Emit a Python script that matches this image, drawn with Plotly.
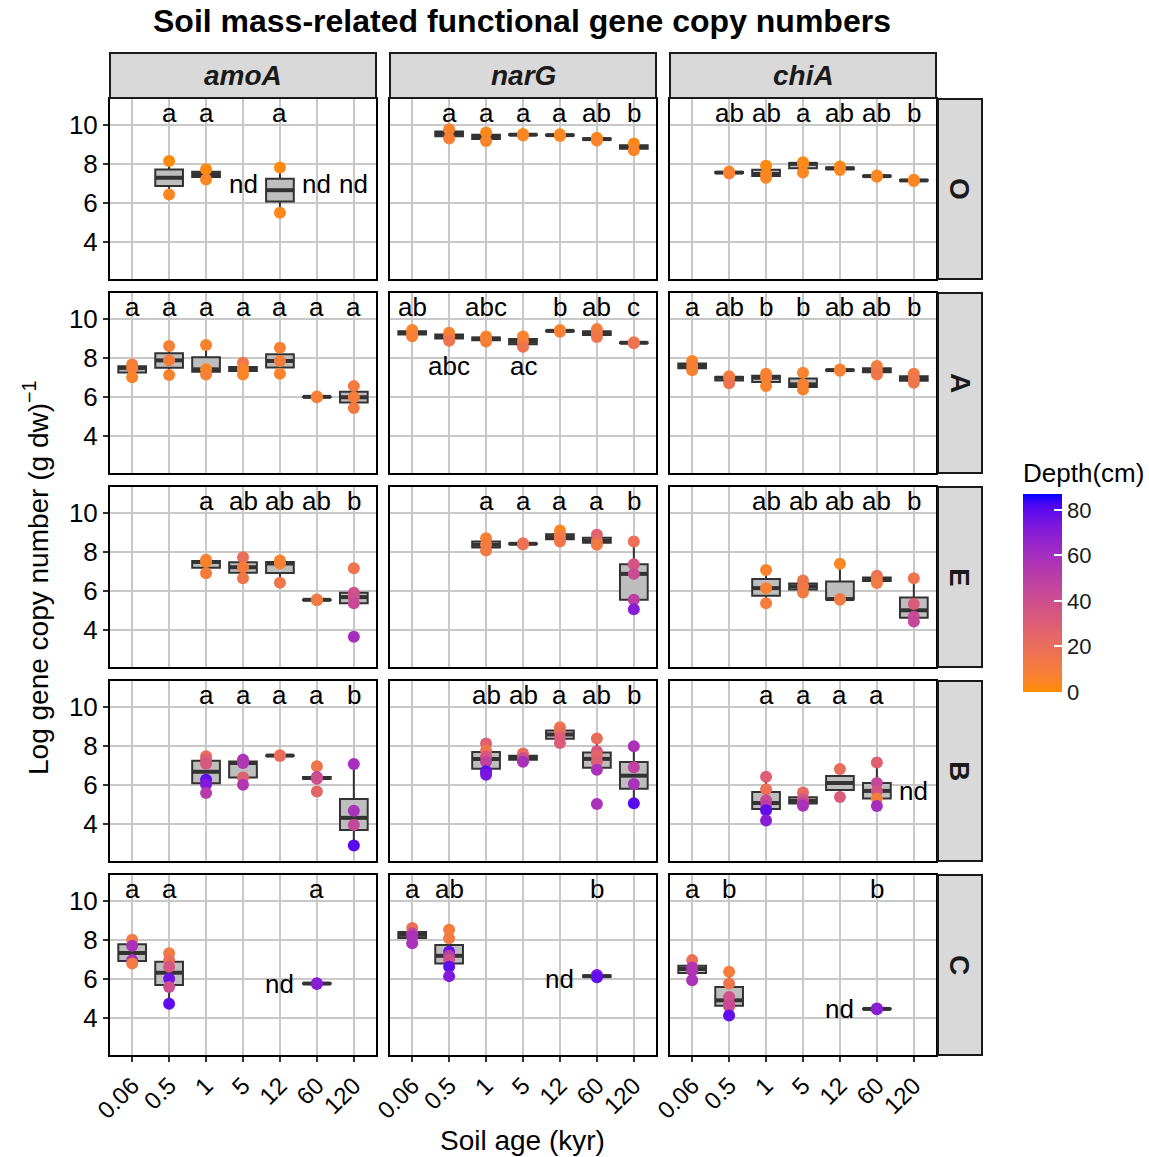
import numpy as np
import plotly.graph_objects as go

FIG_W, FIG_H = 1149, 1157
PLOT_W = 990          # width of the plotting region; the colour bar sits to its right
FONT = "Liberation Sans, Arial, sans-serif"

AGES = ["0.06", "0.5", "1", "5", "12", "60", "120"]
GENES = ["amoA", "narG", "chiA"]
HORIZONS = ["O", "A", "E", "B", "C"]
DEPTH_LIMITS = (0, 87)

# Soil cores per panel: (soil age in kyr, log gene copies per g dw, depth in cm)
amoA_O = [("0.5", 8.16, 1), ("0.5", 6.45, 4), ("1", 7.74, 2), ("1", 7.22, 4),
          ("12", 7.83, 2), ("12", 5.51, 3)]
narG_O = [("0.5", 9.79, 6), ("0.5", 9.32, 8), ("1", 9.62, 3), ("1", 9.19, 5),
          ("5", 9.55, 2), ("5", 9.47, 4), ("12", 9.53, 2), ("12", 9.45, 4),
          ("60", 9.35, 3), ("60", 9.22, 5), ("120", 9.06, 3), ("120", 8.71, 5)]
chiA_O = [("0.5", 7.62, 5), ("0.5", 7.52, 7), ("1", 7.92, 2), ("1", 7.50, 3),
          ("1", 7.30, 4), ("5", 8.10, 2), ("5", 8.02, 3), ("5", 7.57, 4),
          ("12", 7.88, 2), ("12", 7.70, 4), ("60", 7.42, 3), ("60", 7.36, 4),
          ("120", 7.20, 3), ("120", 7.14, 4)]

amoA_A = [("0.06", 7.68, 10), ("0.06", 7.50, 8), ("0.06", 7.03, 6),
          ("0.5", 8.63, 8), ("0.5", 7.89, 10), ("0.5", 7.14, 6),
          ("1", 8.68, 6), ("1", 7.43, 5), ("1", 7.17, 8),
          ("5", 7.77, 15), ("5", 7.48, 8), ("5", 7.40, 6), ("5", 7.17, 5),
          ("12", 8.54, 8), ("12", 7.86, 10), ("12", 7.20, 6),
          ("60", 6.04, 8), ("60", 6.00, 8),
          ("120", 6.57, 12), ("120", 6.00, 10), ("120", 5.45, 12)]
narG_A = [("0.06", 9.45, 5), ("0.06", 9.30, 6), ("0.06", 9.12, 8),
          ("0.5", 9.31, 6), ("0.5", 9.12, 8), ("0.5", 8.89, 16),
          ("1", 9.11, 6), ("1", 9.00, 8), ("1", 8.85, 8),
          ("5", 9.11, 6), ("5", 8.85, 8), ("5", 8.58, 16),
          ("12", 9.44, 6), ("12", 9.36, 8),
          ("60", 9.49, 10), ("60", 9.28, 12), ("60", 9.09, 14),
          ("120", 8.82, 14), ("120", 8.76, 16)]
chiA_A = [("0.06", 7.86, 6), ("0.06", 7.60, 8), ("0.06", 7.38, 8),
          ("0.5", 7.08, 8), ("0.5", 7.00, 12), ("0.5", 6.72, 16),
          ("1", 7.20, 6), ("1", 7.00, 8), ("1", 6.57, 6),
          ("5", 7.26, 6), ("5", 6.66, 8), ("5", 6.40, 6),
          ("12", 7.42, 6), ("12", 7.36, 8),
          ("60", 7.60, 10), ("60", 7.38, 12), ("60", 7.17, 14),
          ("120", 7.20, 12), ("120", 6.95, 14), ("120", 6.74, 15)]

amoA_E = [("1", 7.61, 8), ("1", 7.50, 6), ("1", 6.92, 10),
          ("5", 7.74, 20), ("5", 7.23, 10), ("5", 6.67, 14),
          ("12", 7.58, 6), ("12", 7.42, 8), ("12", 6.44, 14),
          ("60", 5.58, 12), ("60", 5.54, 12),
          ("120", 7.18, 16), ("120", 5.92, 38), ("120", 5.70, 40),
          ("120", 5.38, 44), ("120", 3.67, 60)]
narG_E = [("1", 8.72, 8), ("1", 8.38, 10), ("1", 8.09, 12),
          ("5", 8.46, 18), ("5", 8.40, 18),
          ("12", 9.11, 4), ("12", 8.85, 10), ("12", 8.70, 12), ("12", 8.55, 14),
          ("60", 8.89, 28), ("60", 8.58, 20), ("60", 8.38, 12),
          ("120", 8.55, 18), ("120", 7.38, 36), ("120", 6.89, 42),
          ("120", 5.56, 50), ("120", 5.08, 70)]
chiA_E = [("1", 7.09, 6), ("1", 6.16, 8), ("1", 5.39, 10),
          ("5", 6.55, 16), ("5", 6.25, 14), ("5", 5.94, 12),
          ("12", 7.41, 4), ("12", 5.60, 12), ("12", 5.56, 12),
          ("60", 6.79, 18), ("60", 6.62, 14), ("60", 6.42, 12),
          ("120", 6.67, 16), ("120", 5.35, 32), ("120", 4.70, 42), ("120", 4.45, 45)]

amoA_B = [("1", 7.48, 20), ("1", 7.30, 30), ("1", 7.10, 34), ("1", 6.28, 79),
          ("1", 6.05, 72), ("1", 5.60, 52),
          ("5", 7.31, 60), ("5", 7.22, 56), ("5", 7.14, 55), ("5", 6.40, 28), ("5", 6.03, 55),
          ("12", 7.54, 18), ("12", 7.50, 20),
          ("60", 6.97, 15), ("60", 6.42, 45), ("60", 6.37, 50), ("60", 6.33, 40), ("60", 5.68, 25),
          ("120", 7.09, 60), ("120", 4.69, 58), ("120", 3.97, 45), ("120", 2.91, 80)]
narG_B = [("1", 8.14, 28), ("1", 7.78, 15), ("1", 7.49, 35), ("1", 7.20, 48),
          ("1", 6.72, 79), ("1", 6.54, 74),
          ("5", 7.63, 22), ("5", 7.40, 40), ("5", 7.20, 58),
          ("12", 8.97, 16), ("12", 8.75, 20), ("12", 8.45, 30), ("12", 8.16, 32),
          ("60", 8.40, 20), ("60", 7.74, 35), ("60", 7.50, 25), ("60", 7.20, 30),
          ("60", 6.79, 58), ("60", 5.04, 58),
          ("120", 8.00, 58), ("120", 6.92, 48), ("120", 6.06, 58), ("120", 5.08, 80)]
chiA_B = [("1", 6.43, 30), ("1", 5.80, 18), ("1", 5.23, 42), ("1", 4.95, 50),
          ("1", 4.72, 79), ("1", 4.20, 70),
          ("5", 5.63, 22), ("5", 5.30, 35), ("5", 5.10, 45), ("5", 4.95, 58),
          ("12", 6.83, 20), ("12", 5.40, 32),
          ("60", 7.17, 28), ("60", 6.11, 45), ("60", 5.71, 38), ("60", 5.32, 10), ("60", 4.94, 60)]

amoA_C = [("0.06", 8.02, 12), ("0.06", 7.71, 58), ("0.06", 6.98, 58), ("0.06", 6.81, 12),
          ("0.5", 7.33, 12), ("0.5", 6.98, 18), ("0.5", 6.64, 35), ("0.5", 6.03, 76),
          ("0.5", 5.60, 40), ("0.5", 4.74, 79),
          ("60", 5.80, 72), ("60", 5.76, 70)]
narG_C = [("0.06", 8.62, 18), ("0.06", 8.35, 45), ("0.06", 8.20, 58), ("0.06", 7.84, 58),
          ("0.5", 8.53, 10), ("0.5", 8.10, 12), ("0.5", 7.41, 78), ("0.5", 7.20, 50),
          ("0.5", 6.98, 40), ("0.5", 6.64, 79), ("0.5", 6.16, 72),
          ("60", 6.22, 72), ("60", 6.10, 79)]
chiA_C = [("0.06", 6.98, 18), ("0.06", 6.60, 55), ("0.06", 6.45, 55), ("0.06", 5.95, 58),
          ("0.5", 6.38, 10), ("0.5", 5.78, 15), ("0.5", 5.09, 38), ("0.5", 4.75, 40),
          ("0.5", 4.60, 42), ("0.5", 4.14, 79),
          ("60", 4.50, 70), ("60", 4.46, 70)]

# Significance letters per panel (age, letter group)
amoA_O_sig = [("0.5", "a"), ("1", "a"), ("12", "a")]
narG_O_sig = [("0.5", "a"), ("1", "a"), ("5", "a"), ("12", "a"), ("60", "ab"), ("120", "b")]
chiA_O_sig = [("0.5", "ab"), ("1", "ab"), ("5", "a"), ("12", "ab"), ("60", "ab"), ("120", "b")]
amoA_A_sig = [(a, "a") for a in AGES]
narG_A_sig = [("0.06", "ab"), ("1", "abc"), ("12", "b"), ("60", "ab"), ("120", "c")]
narG_A_sig_low = [("0.5", "abc"), ("5", "ac")]
chiA_A_sig = [("0.06", "a"), ("0.5", "ab"), ("1", "b"), ("5", "b"), ("12", "ab"), ("60", "ab"), ("120", "b")]
amoA_E_sig = [("1", "a"), ("5", "ab"), ("12", "ab"), ("60", "ab"), ("120", "b")]
narG_E_sig = [("1", "a"), ("5", "a"), ("12", "a"), ("60", "a"), ("120", "b")]
chiA_E_sig = [("1", "ab"), ("5", "ab"), ("12", "ab"), ("60", "ab"), ("120", "b")]
amoA_B_sig = [("1", "a"), ("5", "a"), ("12", "a"), ("60", "a"), ("120", "b")]
narG_B_sig = [("1", "ab"), ("5", "ab"), ("12", "a"), ("60", "ab"), ("120", "b")]
chiA_B_sig = [("1", "a"), ("5", "a"), ("12", "a"), ("60", "a")]
amoA_C_sig = [("0.06", "a"), ("0.5", "a"), ("60", "a")]
narG_C_sig = [("0.06", "a"), ("0.5", "ab"), ("60", "b")]
chiA_C_sig = [("0.06", "a"), ("0.5", "b"), ("60", "b")]

# Ages where the gene was not detected
amoA_O_nd = ["5", "60", "120"]
chiA_B_nd = ["120"]
amoA_C_nd = ["12"]
narG_C_nd = ["12"]
chiA_C_nd = ["12"]

DATA = {
    ("amoA", "O"): amoA_O, ("narG", "O"): narG_O, ("chiA", "O"): chiA_O,
    ("amoA", "A"): amoA_A, ("narG", "A"): narG_A, ("chiA", "A"): chiA_A,
    ("amoA", "E"): amoA_E, ("narG", "E"): narG_E, ("chiA", "E"): chiA_E,
    ("amoA", "B"): amoA_B, ("narG", "B"): narG_B, ("chiA", "B"): chiA_B,
    ("amoA", "C"): amoA_C, ("narG", "C"): narG_C, ("chiA", "C"): chiA_C,
}
SIG = {
    ("amoA", "O"): amoA_O_sig, ("narG", "O"): narG_O_sig, ("chiA", "O"): chiA_O_sig,
    ("amoA", "A"): amoA_A_sig, ("narG", "A"): narG_A_sig, ("chiA", "A"): chiA_A_sig,
    ("amoA", "E"): amoA_E_sig, ("narG", "E"): narG_E_sig, ("chiA", "E"): chiA_E_sig,
    ("amoA", "B"): amoA_B_sig, ("narG", "B"): narG_B_sig, ("chiA", "B"): chiA_B_sig,
    ("amoA", "C"): amoA_C_sig, ("narG", "C"): narG_C_sig, ("chiA", "C"): chiA_C_sig,
}
SIG_LOW = {("narG", "A"): narG_A_sig_low}
ND = {("amoA", "O"): amoA_O_nd, ("chiA", "B"): chiA_B_nd, ("amoA", "C"): amoA_C_nd,
      ("narG", "C"): narG_C_nd, ("chiA", "C"): chiA_C_nd}

# ---- layout geometry (pixels) ----
COL_LEFT = [110, 390, 670]
PANEL_W = 266
ROW_TOP = [99, 293, 487, 681, 875]
PANEL_H = 180
STRIP_TOP, STRIP_BOT = 53, 98
RSTRIP_L, RSTRIP_R = 938, 982
X_RANGE = [-0.6, 6.6]
Y_RANGE = [2.12, 11.34]
BOX_W = 0.75
SIG_Y, SIG_Y_LOW = 10.6, 7.6
ND_Y = {("amoA", "O"): 7.0, ("chiA", "B"): 5.71, ("amoA", "C"): 5.78,
        ("narG", "C"): 6.03, ("chiA", "C"): 4.48}


def px_x(p):
    return p / PLOT_W


def px_y(p):
    return 1 - p / FIG_H


# ---- colour ramp interpolated in CIELAB (darkorange -> blue) ----
_WHITE = (0.95047, 1.0, 1.08883)
_M = np.array([[0.4124564, 0.3575761, 0.1804375],
               [0.2126729, 0.7151522, 0.0721750],
               [0.0193339, 0.1191920, 0.9503041]])
_MI = np.linalg.inv(_M)


def hex_to_lab(h):
    rgb = np.array([int(h[i:i + 2], 16) / 255 for i in (1, 3, 5)])
    lin = np.where(rgb <= 0.04045, rgb / 12.92, ((rgb + 0.055) / 1.055) ** 2.4)
    xyz = _M @ lin / np.array(_WHITE)
    d = 6 / 29
    f = np.where(xyz > d ** 3, np.cbrt(xyz), xyz / (3 * d * d) + 4 / 29)
    return np.array([116 * f[1] - 16, 500 * (f[0] - f[1]), 200 * (f[1] - f[2])])


def lab_to_hex(lab):
    L, a, b = lab
    fy = (L + 16) / 116
    f = np.array([fy + a / 500, fy, fy - b / 200])
    d = 6 / 29
    xyz = np.where(f > d, f ** 3, 3 * d * d * (f - 4 / 29)) * np.array(_WHITE)
    lin = np.clip(_MI @ xyz, 0, 1)
    rgb = np.where(lin <= 0.0031308, 12.92 * lin, 1.055 * lin ** (1 / 2.4) - 0.055)
    rgb = np.clip(np.round(rgb * 255), 0, 255).astype(int)
    return "#{:02x}{:02x}{:02x}".format(*rgb)


def lab_ramp(lo, hi, n=21):
    l0, l1 = hex_to_lab(lo), hex_to_lab(hi)
    return [[i / (n - 1), lab_to_hex(l0 + (l1 - l0) * i / (n - 1))] for i in range(n)]


DEPTH_SCALE = lab_ramp("#ff8c00", "#0000ff")


def box_stats(vals):
    v = np.sort(np.asarray(vals, dtype=float))
    q1, med, q3 = np.percentile(v, [25, 50, 75])
    iqr = q3 - q1
    lo = v[v >= q1 - 1.5 * iqr].min()
    hi = v[v <= q3 + 1.5 * iqr].max()
    return q1, med, q3, lo, hi


def label(x, y, text, xref="paper", yref="paper", size=26, **kw):
    return dict(x=x, y=y, xref=xref, yref=yref, text=text, showarrow=False,
                xanchor="center", yanchor="middle",
                font=dict(size=size, color=kw.pop("color", "black")), **kw)


fig = go.Figure()
annotations = []
shapes = []
layout_axes = {}

for r, hz in enumerate(HORIZONS):
    for c, gene in enumerate(GENES):
        k = r * 3 + c + 1
        xa = "x" if k == 1 else f"x{k}"
        ya = "y" if k == 1 else f"y{k}"
        xkey = "xaxis" if k == 1 else f"xaxis{k}"
        ykey = "yaxis" if k == 1 else f"yaxis{k}"
        rows = DATA[(gene, hz)]

        groups = {}
        for age, val, dep in rows:
            groups.setdefault(age, []).append(val)
        pos, q1s, meds, q3s, los, his = [], [], [], [], [], []
        for age in AGES:
            if age in groups:
                q1, med, q3, lo, hi = box_stats(groups[age])
                pos.append(AGES.index(age))
                q1s.append(q1); meds.append(med); q3s.append(q3)
                los.append(lo); his.append(hi)

        fig.add_trace(go.Box(
            x=pos, q1=q1s, median=meds, q3=q3s, lowerfence=los, upperfence=his,
            width=BOX_W, whiskerwidth=0, boxpoints=False,
            fillcolor="#bebebe", line=dict(color="#333333", width=2),
            xaxis=xa, yaxis=ya, showlegend=False, hoverinfo="skip"))

        # thicker median bars
        mx, my = [], []
        for p, m in zip(pos, meds):
            mx += [p - BOX_W / 2, p + BOX_W / 2, None]
            my += [m, m, None]
        fig.add_trace(go.Scatter(
            x=mx, y=my, mode="lines", line=dict(color="#333333", width=4),
            xaxis=xa, yaxis=ya, showlegend=False, hoverinfo="skip"))

        # individual samples coloured by depth
        fig.add_trace(go.Scatter(
            x=[AGES.index(a) for a, _, _ in rows], y=[v for _, v, _ in rows],
            mode="markers",
            marker=dict(size=12, color=[d for _, _, d in rows], coloraxis="coloraxis",
                        line=dict(width=0)),
            xaxis=xa, yaxis=ya, showlegend=False, hoverinfo="skip"))

        for age, lab in SIG[(gene, hz)]:
            annotations.append(label(AGES.index(age), SIG_Y, lab, xa, ya))
        for age, lab in SIG_LOW.get((gene, hz), []):
            annotations.append(label(AGES.index(age), SIG_Y_LOW, lab, xa, ya))
        for age in ND.get((gene, hz), []):
            annotations.append(label(AGES.index(age), ND_Y[(gene, hz)], "nd", xa, ya))

        x0, x1 = COL_LEFT[c], COL_LEFT[c] + PANEL_W
        y0, y1 = ROW_TOP[r], ROW_TOP[r] + PANEL_H
        bottom = r == len(HORIZONS) - 1
        left = c == 0
        layout_axes[xkey] = dict(
            domain=[px_x(x0), px_x(x1)], range=X_RANGE, anchor=ya, automargin=False,
            tickmode="array", tickvals=list(range(len(AGES))), ticktext=AGES,
            showticklabels=bottom, tickangle=-45,
            ticks="outside" if bottom else "", ticklen=5, tickwidth=1.5, tickcolor="#333333",
            tickfont=dict(size=24, color="black"),
            showgrid=True, gridcolor="#c8c8c8", gridwidth=1.8, zeroline=False,
            showline=True, mirror=True, linecolor="black", linewidth=2)
        layout_axes[ykey] = dict(
            domain=[px_y(y1), px_y(y0)], range=Y_RANGE, anchor=xa, automargin=False,
            tickmode="array", tickvals=[4, 6, 8, 10],
            showticklabels=left,
            ticks="outside" if left else "", ticklen=5, tickwidth=1.5, tickcolor="#333333",
            tickfont=dict(size=26, color="black"),
            showgrid=True, gridcolor="#c8c8c8", gridwidth=1.8, zeroline=False,
            showline=True, mirror=True, linecolor="black", linewidth=2)

# column strips
for c, gene in enumerate(GENES):
    x0, x1 = COL_LEFT[c], COL_LEFT[c] + PANEL_W
    shapes.append(dict(type="rect", xref="paper", yref="paper",
                       x0=px_x(x0), x1=px_x(x1), y0=px_y(STRIP_BOT), y1=px_y(STRIP_TOP),
                       fillcolor="#d9d9d9", line=dict(color="#1a1a1a", width=2)))
    annotations.append(label(px_x((x0 + x1) / 2), px_y((STRIP_TOP + STRIP_BOT) / 2),
                             f"<b><i>{gene}</i></b>", size=28, color="#1a1a1a"))

# row strips
for r, hz in enumerate(HORIZONS):
    y0, y1 = ROW_TOP[r], ROW_TOP[r] + PANEL_H
    shapes.append(dict(type="rect", xref="paper", yref="paper",
                       x0=px_x(RSTRIP_L), x1=px_x(RSTRIP_R), y0=px_y(y1), y1=px_y(y0),
                       fillcolor="#d9d9d9", line=dict(color="#1a1a1a", width=2)))
    annotations.append(label(px_x((RSTRIP_L + RSTRIP_R) / 2), px_y((y0 + y1) / 2),
                             f"<b>{hz}</b>", size=28, color="#1a1a1a", textangle=90))

# titles
annotations.append(label(px_x(522), px_y(21),
                         "<b>Soil mass-related functional gene copy numbers</b>", size=32))
annotations.append(label(px_x(522), px_y(1140), "Soil age (kyr)", size=28))
annotations.append(label(px_x(36), px_y(578),
                         "Log gene copy number (g dw)<sup>\u22121</sup>", size=28,
                         textangle=-90))

fig.update_layout(
    width=FIG_W, height=FIG_H,
    margin=dict(l=0, r=FIG_W - PLOT_W, t=0, b=0),
    paper_bgcolor="white", plot_bgcolor="white",
    font=dict(family=FONT, color="black"),
    annotations=annotations, shapes=shapes,
    coloraxis=dict(
        colorscale=DEPTH_SCALE, cmin=DEPTH_LIMITS[0], cmax=DEPTH_LIMITS[1],
        colorbar=dict(
            xref="container", yref="container",
            x=1023 / FIG_W, xanchor="left", xpad=0,
            y=px_y(449), yanchor="top", ypad=10,
            len=253, lenmode="pixels", thickness=39, thicknessmode="pixels",
            outlinewidth=0, tickvals=[0, 20, 40, 60, 80],
            ticks="inside", ticklen=8, tickwidth=1.5, tickcolor="white",
            tickfont=dict(size=22, color="#1a1a1a"),
            title=dict(text="Depth(cm)", side="top", font=dict(size=26, color="black")),
        ),
    ),
    **layout_axes,
)

fig.write_html("out.html")
